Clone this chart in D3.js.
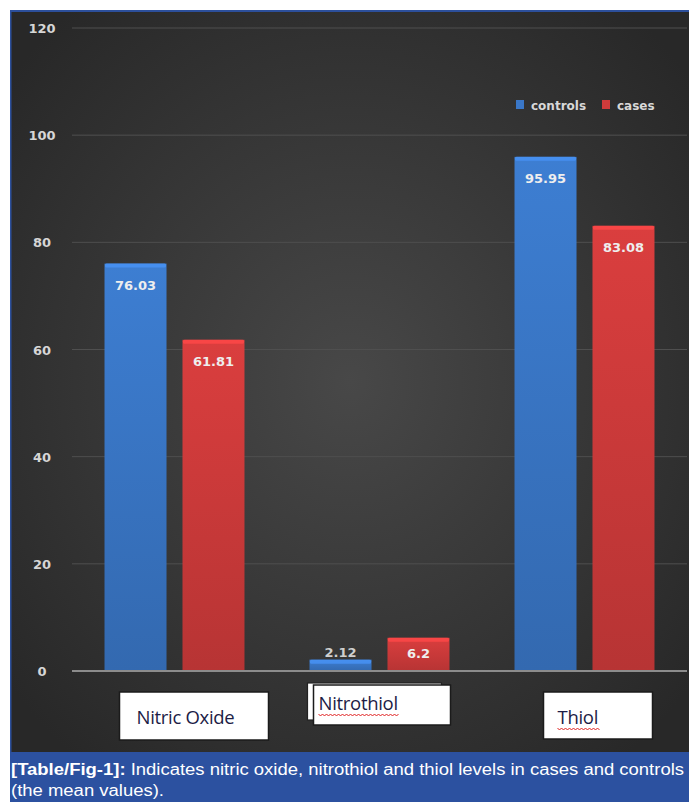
<!DOCTYPE html>
<html>
<head>
<meta charset="utf-8">
<script src="https://cdn.jsdelivr.net/npm/d3@7"></script>
<style>
  html, body { margin: 0; padding: 0; background: #fff; }
  svg { display: block; }
</style>
</head>
<body>
<svg id="chart" width="689" height="802"></svg>
<script>
// Chart data
const categories = ['Nitric Oxide', 'Nitrothiol', 'Thiol'];
const series = ['controls', 'cases'];
const controls = [76.03, 2.12, 95.95];
const cases = [61.81, 6.2, 83.08];
const yTicks = [0, 20, 40, 60, 80, 100, 120];
const captionBold = '[Table/Fig-1]:';
const captionRest = ' Indicates nitric oxide, nitrothiol and thiol levels in cases and controls';
const captionLine2 = '(the mean values).';

const colors = { controls: '#3a77c7', cases: '#cf3b3b' };
const svg = d3.select('#chart');
const defs = svg.append('defs');

// Panel and background gradient
const bg = defs.append('radialGradient').attr('id', 'bg')
  .attr('cx', '50%').attr('cy', '50%').attr('r', '65%');
bg.append('stop').attr('offset', '0%').attr('stop-color', '#484848');
bg.append('stop').attr('offset', '100%').attr('stop-color', '#282828');

svg.append('rect').attr('x', 10).attr('y', 10).attr('width', 679).attr('height', 742)
  .attr('fill', '#2c4f9b');
svg.append('rect').attr('x', 11.5).attr('y', 12).attr('width', 677.5).attr('height', 740)
  .attr('fill', 'url(#bg)');

// Scales
const y = d3.scaleLinear().domain([0, 120]).range([671, 28]);
const x0 = d3.scaleBand().domain(categories).range([72, 687]);
const x1 = d3.scaleBand().domain(series).range([0, x0.bandwidth()])
  .paddingInner(0.205).paddingOuter(0.417);

// Grid lines and tick labels
svg.append('g').selectAll('line').data(yTicks.filter(d => d > 0)).join('line')
  .attr('x1', 72).attr('x2', 687)
  .attr('y1', d => y(d)).attr('y2', d => y(d))
  .attr('stroke', '#4f4f4f').attr('stroke-width', 1);

svg.append('g').selectAll('text').data(yTicks).join('text')
  .attr('x', 42).attr('y', d => y(d) + 5)
  .attr('text-anchor', 'middle')
  .attr('font-family', 'DejaVu Sans').attr('font-weight', 'bold').attr('font-size', 13)
  .attr('fill', '#d6d6d6')
  .text(d => d);

// Bar gradients
series.forEach(s => {
  const base = d3.color(colors[s]);
  const g = defs.append('linearGradient').attr('id', 'grad-' + s)
    .attr('x1', 0).attr('y1', 0).attr('x2', 0).attr('y2', 1);
  g.append('stop').attr('offset', '0%').attr('stop-color', base.brighter(0.15));
  g.append('stop').attr('offset', '100%').attr('stop-color', base.darker(0.35));
});

// Bars
const rows = categories.map((c, i) => ({ category: c, controls: controls[i], cases: cases[i] }));
const groups = svg.append('g').selectAll('g').data(rows).join('g')
  .attr('transform', d => `translate(${x0(d.category)},0)`);

const bars = groups.selectAll('g').data(d => series.map(s => ({ key: s, value: d[s] }))).join('g');

bars.append('rect')
  .attr('x', d => x1(d.key)).attr('width', x1.bandwidth())
  .attr('y', d => y(d.value)).attr('height', d => y(0) - y(d.value))
  .attr('fill', d => `url(#grad-${d.key})`);

// top bevel
bars.append('rect')
  .attr('x', d => x1(d.key) + 0.5).attr('width', x1.bandwidth() - 1)
  .attr('y', d => y(d.value)).attr('height', d => Math.min(4, y(0) - y(d.value)))
  .attr('rx', 1.5)
  .attr('fill', d => d3.color(colors[d.key]).brighter(0.6))
  .attr('opacity', 0.8);

// Value labels
bars.append('text')
  .attr('x', d => x1(d.key) + x1.bandwidth() / 2)
  .attr('y', d => {
    const top = y(d.value), h = y(0) - top;
    if (h < 20) return top - 3;
    return Math.min(top + 26, (top + y(0)) / 2 + 4);
  })
  .attr('text-anchor', 'middle')
  .attr('font-family', 'DejaVu Sans').attr('font-weight', 'bold').attr('font-size', 13)
  .attr('fill', d => (y(0) - y(d.value) < 20) ? '#cfcfcf' : '#eeeeee')
  .text(d => d.value);

// Axis line
svg.append('line').attr('x1', 72).attr('x2', 687).attr('y1', y(0)).attr('y2', y(0))
  .attr('stroke', '#8c8c8c').attr('stroke-width', 2);

// Legend
const legend = svg.append('g');
const legendItems = [{ key: 'controls', x: 516, tx: 531 }, { key: 'cases', x: 602, tx: 617 }];
legendItems.forEach(it => {
  legend.append('rect').attr('x', it.x).attr('y', 100).attr('width', 8).attr('height', 9)
    .attr('fill', colors[it.key]);
  legend.append('text').attr('x', it.tx).attr('y', 110)
    .attr('font-family', 'DejaVu Sans').attr('font-weight', 'bold').attr('font-size', 12)
    .attr('fill', '#d8d8d8').text(it.key);
});

// Category label boxes (hand-placed text boxes under the axis)
const boxes = [
  { dx: -55, y: 692, w: 149, h: 48, tx: 17, ty: 32, wavy: false },
  { dx: -66, y: 685, w: 137, h: 40, tx: 5, ty: 25, wavy: true, back: true },
  { dx: -41, y: 692, w: 109, h: 47, tx: 14, ty: 32, wavy: true }
];
categories.forEach((c, i) => {
  const b = boxes[i];
  const bx = x0(c) + x0.bandwidth() / 2 + b.dx;
  const g = svg.append('g');
  if (b.back) {
    g.append('rect').attr('x', bx - 6).attr('y', b.y - 2).attr('width', b.w - 3).attr('height', 37)
      .attr('fill', '#ffffff').attr('stroke', '#222').attr('stroke-width', 1.2);
  }
  g.append('rect').attr('x', bx).attr('y', b.y).attr('width', b.w).attr('height', b.h)
    .attr('fill', '#ffffff').attr('stroke', '#1b1b1b').attr('stroke-width', 1.5);
  const t = g.append('text').attr('x', bx + b.tx).attr('y', b.y + b.ty)
    .attr('font-family', 'Open Sans').attr('font-size', 18.5).attr('letter-spacing', -0.3)
    .attr('fill', '#1c1c46').text(c);
  if (b.wavy) {
    const bb = t.node().getBBox();
    const path = d3.path();
    const yy = b.y + b.ty + 4;
    path.moveTo(bb.x, yy);
    for (let xx = bb.x, k = 0; xx < bb.x + bb.width; xx += 2, k++) {
      path.lineTo(xx + 2, yy + (k % 2 === 0 ? 2 : 0));
    }
    g.append('path').attr('d', path.toString()).attr('fill', 'none')
      .attr('stroke', '#e02020').attr('stroke-width', 1);
  }
});

// Caption band
svg.append('rect').attr('x', 10).attr('y', 752).attr('width', 679).attr('height', 50)
  .attr('fill', '#2c51a0');
const cap = svg.append('text').attr('x', 11).attr('y', 775)
  .attr('font-family', 'Liberation Sans').attr('font-size', 16).attr('fill', '#ffffff');
cap.append('tspan').attr('font-weight', 'bold').text(captionBold);
cap.append('tspan').text(captionRest);
// squeeze first line to the band width, same squeeze for line two
const natural = cap.node().getComputedTextLength();
const squeeze = 673 / natural;
cap.attr('textLength', 673).attr('lengthAdjust', 'spacingAndGlyphs');
const l2 = svg.append('text').attr('x', 11).attr('y', 796)
  .attr('font-family', 'Liberation Sans').attr('font-size', 16).attr('fill', '#ffffff')
  .text(captionLine2);
l2.attr('textLength', l2.node().getComputedTextLength() * squeeze)
  .attr('lengthAdjust', 'spacingAndGlyphs');
</script>
</body>
</html>
